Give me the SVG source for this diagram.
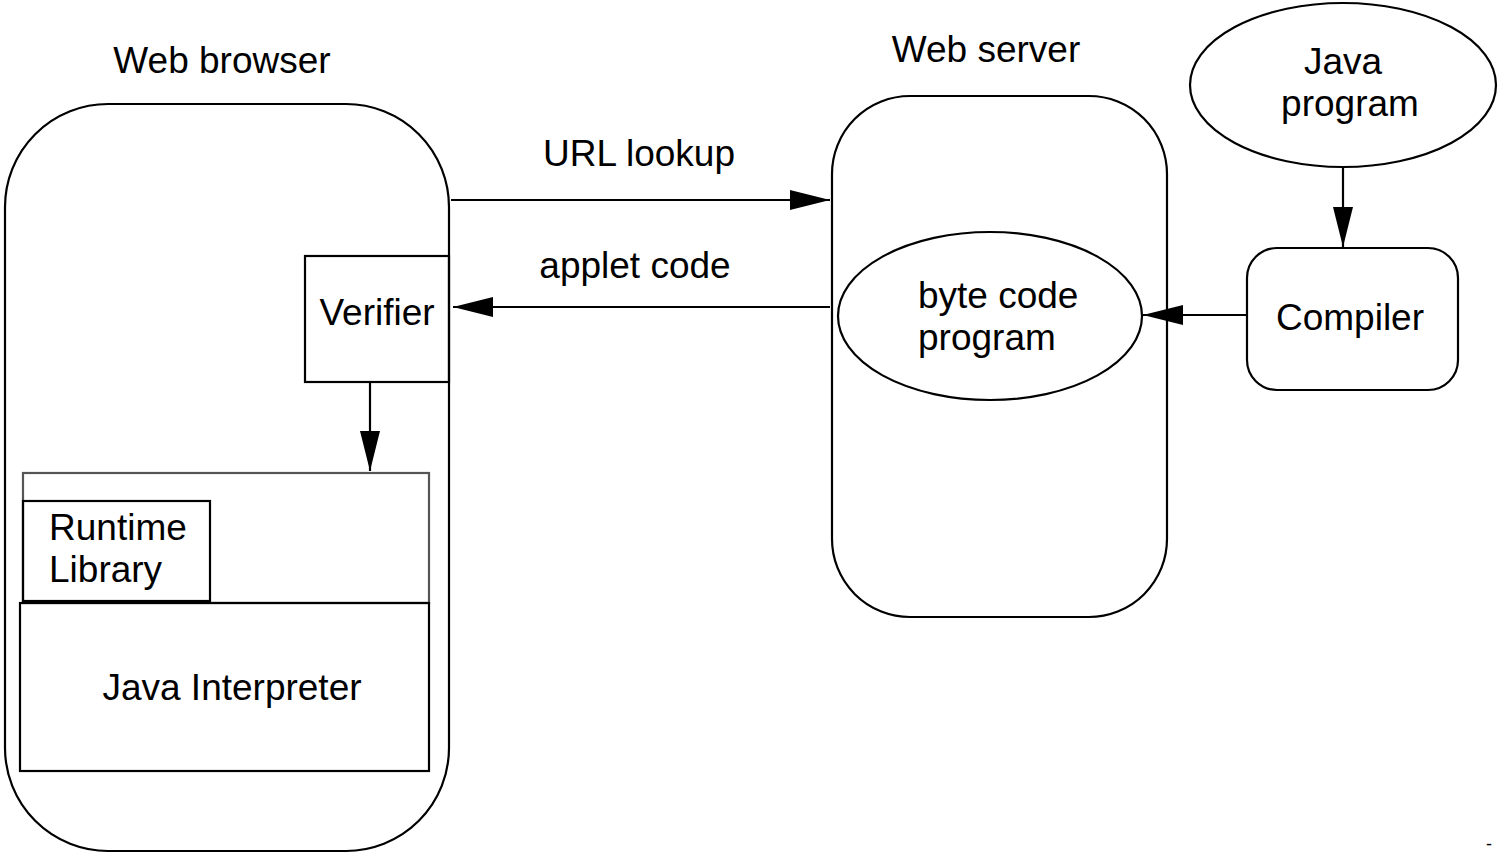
<svg xmlns="http://www.w3.org/2000/svg" width="1498" height="855" viewBox="0 0 1498 855">
  <style>
    .shape { fill: none; stroke: #000; stroke-width: 2.2; }
    .inner { fill: none; stroke: #555; stroke-width: 2.2; }
    .edge { fill: none; stroke: #000; stroke-width: 2.2; }
    text { font-family: "Liberation Sans", Arial, Helvetica, sans-serif; font-size: 37px; fill: #000; }
    .mid { text-anchor: middle; }
  </style>
  <defs>
    <marker id="arrow" viewBox="0 0 40 20" refX="40" refY="10" markerWidth="40" markerHeight="20" markerUnits="userSpaceOnUse" orient="auto">
      <path d="M0,0 L40,10 L0,20 Z" fill="#000"/>
    </marker>
  </defs>

  <rect width="1498" height="855" fill="#fff"/>

  <!-- Web browser -->
  <g id="web-browser">
    <rect class="shape" x="5" y="104" width="444" height="747" rx="103" ry="103"/>
    <text class="mid" x="222" y="73">Web browser</text>
  </g>

  <g id="verifier">
    <rect class="shape" x="305" y="256" width="144" height="126"/>
    <text class="mid" x="377" y="325">Verifier</text>
  </g>

  <g id="runtime-area">
    <rect class="inner" x="23" y="473" width="406" height="130"/>
  </g>

  <g id="runtime-library">
    <rect class="shape" x="23" y="501" width="187" height="100"/>
    <text x="49" y="540">Runtime</text>
    <text x="49" y="582">Library</text>
  </g>

  <g id="java-interpreter">
    <rect class="shape" x="20" y="603" width="409" height="168"/>
    <text class="mid" x="232" y="700">Java Interpreter</text>
  </g>

  <!-- Web server -->
  <g id="web-server">
    <rect class="shape" x="832" y="96" width="335" height="521" rx="78" ry="78"/>
    <text class="mid" x="986" y="62">Web server</text>
  </g>

  <g id="byte-code-program">
    <ellipse class="shape" cx="990" cy="316" rx="152" ry="84"/>
    <text x="918" y="308">byte code</text>
    <text x="918" y="350">program</text>
  </g>

  <g id="java-program">
    <ellipse class="shape" cx="1343" cy="85" rx="153" ry="82"/>
    <text class="mid" x="1343" y="74">Java</text>
    <text class="mid" x="1350" y="116">program</text>
  </g>

  <g id="compiler">
    <rect class="shape" x="1247" y="248" width="211" height="142" rx="30" ry="30"/>
    <text class="mid" x="1350" y="330">Compiler</text>
  </g>

  <!-- Connectors -->
  <g id="connectors">
    <line class="edge" x1="451" y1="200" x2="830" y2="200" marker-end="url(#arrow)"/>
    <text class="mid" x="639" y="166">URL lookup</text>
    <line class="edge" x1="830" y1="307" x2="453" y2="307" marker-end="url(#arrow)"/>
    <text class="mid" x="635" y="278">applet code</text>
    <line class="edge" x1="370" y1="382" x2="370" y2="471" marker-end="url(#arrow)"/>
    <line class="edge" x1="1343" y1="167" x2="1343" y2="247" marker-end="url(#arrow)"/>
    <line class="edge" x1="1247" y1="315" x2="1143" y2="315" marker-end="url(#arrow)"/>
  </g>

  <text x="1486" y="850" style="font-size:18px">-</text>
</svg>
